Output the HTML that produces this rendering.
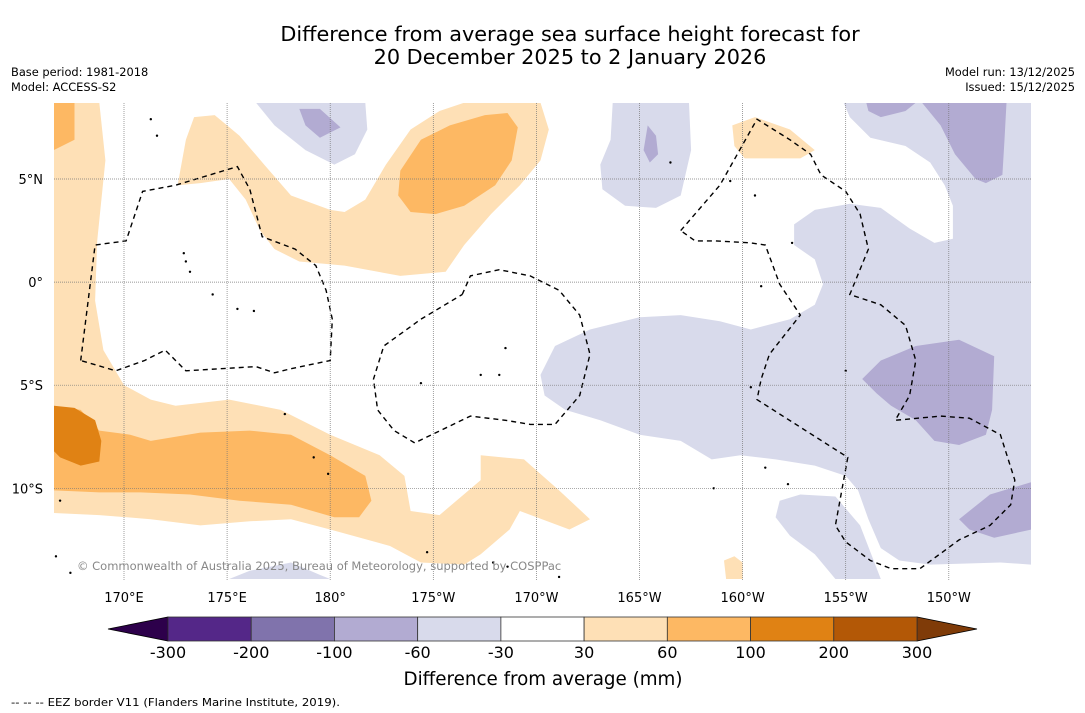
<!DOCTYPE html>
<html><head><meta charset="utf-8"><style>
html,body{margin:0;padding:0;background:#fff;}
svg{display:block;font-family:"DejaVu Sans","Liberation Sans",sans-serif;}
</style></head><body>
<svg id="chart" width="1085" height="713" viewBox="0 0 1085 713">
<text x="570" y="41" text-anchor="middle" font-size="20.8">Difference from average sea surface height forecast for</text>
<text x="570" y="64" text-anchor="middle" font-size="20.8">20 December 2025 to 2 January 2026</text>
<text x="11" y="76" font-size="11.4">Base period: 1981-2018</text>
<text x="11" y="91" font-size="11.4">Model: ACCESS-S2</text>
<text x="1075" y="76" font-size="11.4" text-anchor="end">Model run: 13/12/2025</text>
<text x="1075" y="91" font-size="11.4" text-anchor="end">Issued: 15/12/2025</text>
<defs><clipPath id="mapclip"><rect x="54" y="103" width="977" height="477"/></clipPath></defs>
<g id="map" clip-path="url(#mapclip)"></g>
<g id="axes"></g>
<text x="77" y="570" font-size="11.5" fill="#888">© Commonwealth of Australia 2025, Bureau of Meteorology, supported by COSPPac</text>
<g id="cbar"></g>
<text x="543" y="685" font-size="18.3" text-anchor="middle">Difference from average (mm)</text>
<text x="11" y="706" font-size="11" textLength="329" lengthAdjust="spacingAndGlyphs">--  --  -- EEZ border V11 (Flanders Marine Institute, 2019).</text>
</svg>
<script>
// ---- data ----
const lonTicks = [170,175,180,185,190,195,200,205,210];
const lonTickLabels = ["170°E","175°E","180°","175°W","170°W","165°W","160°W","155°W","150°W"];
const latTicks = [5,0,-5,-10];
const latTickLabels = ["5°N","0°","5°S","10°S"];
const cbarLevels = [-300,-200,-100,-60,-30,30,60,100,200,300];
const cbarColors = ["#542788","#8073ac","#b2abd2","#d8daeb","#ffffff","#fee0b6","#fdb863","#e08214","#b35806"];
const cbarUnder = "#2d004b";
const cbarOver = "#7f3b08";
// contour regions: level class + [lon(°E), lat] vertices
const regionLevels = ["p60","p60","p60","p60","n60","n60","n60","n60","n60","p100","p100","p100","p200","n100","n100","n100","n100","n100","n100"];
const regionShapes = [
 [[166.6,8.7],[168.8,8.7],[169.1,5.9],[168.7,2.0],[168.6,-0.9],[169.0,-3.3],[170.0,-5.0],[171.3,-5.7],[172.5,-6.0],[175.1,-5.7],[177.6,-6.2],[180.0,-7.4],[182.4,-8.4],[183.6,-9.4],[183.9,-11.1],[185.3,-11.3],[187.3,-9.6],[187.3,-8.4],[189.4,-8.6],[191.1,-10.1],[192.6,-11.5],[191.6,-12.0],[189.2,-11.1],[188.7,-12.0],[187.3,-13.2],[186.5,-13.7],[184.4,-13.6],[182.9,-12.8],[180.0,-12.0],[178.1,-11.5],[176.1,-11.6],[173.7,-11.8],[171.3,-11.5],[168.8,-11.3],[166.6,-11.2]],
 [[172.6,4.7],[173.0,6.9],[173.4,8.0],[174.4,8.1],[175.6,7.1],[176.8,5.7],[178.1,4.2],[180.0,3.5],[180.7,3.4],[181.7,4.0],[182.7,5.7],[183.9,7.4],[185.3,8.3],[186.5,8.7],[190.2,8.7],[190.6,7.4],[190.2,5.9],[189.2,4.7],[187.8,3.3],[186.5,1.8],[185.6,0.5],[183.4,0.3],[180.7,0.8],[178.5,1.0],[177.3,1.6],[176.6,2.5],[175.9,4.0],[175.1,5.0],[173.7,4.8]],
 [[199.5,7.6],[200.6,8.0],[202.3,7.4],[203.5,6.4],[202.8,6.0],[200.1,6.0],[199.6,6.6]],
 [[199.1,-13.5],[199.6,-13.3],[200.0,-13.6],[200.0,-14.4],[199.2,-14.4]],
 [[176.4,8.7],[181.7,8.7],[181.8,7.4],[181.2,6.2],[180.2,5.7],[178.8,6.4],[177.3,7.6]],
 [[193.7,8.7],[197.4,8.7],[197.5,6.4],[197.0,4.2],[195.8,3.6],[194.3,3.7],[193.2,4.5],[193.1,5.7],[193.6,6.9]],
 [[204.9,8.7],[214.0,8.7],[214.0,-13.7],[212.5,-13.6],[209.1,-13.7],[207.6,-13.5],[206.7,-12.9],[206.1,-11.5],[205.6,-10.1],[205.0,-9.4],[203.5,-8.9],[201.6,-8.6],[199.9,-8.4],[198.5,-8.6],[197.0,-7.7],[195.0,-7.4],[193.1,-6.7],[191.4,-6.2],[190.4,-5.5],[190.2,-4.5],[190.9,-3.1],[192.6,-2.3],[195.0,-1.7],[197.0,-1.6],[198.9,-1.9],[200.4,-2.3],[202.3,-1.8],[203.5,-1.1],[203.9,-0.1],[203.5,1.1],[202.5,1.8],[202.5,2.8],[203.5,3.5],[205.2,3.8],[206.7,3.6],[208.1,2.6],[209.3,1.9],[210.2,2.1],[210.2,3.7],[209.8,4.7],[209.1,5.8],[207.9,6.6],[206.2,7.0],[205.2,8.0]],
 [[201.8,-10.6],[202.8,-10.3],[204.5,-10.4],[205.7,-11.8],[206.7,-14.4],[204.5,-14.4],[203.5,-13.2],[202.3,-12.3],[201.6,-11.4]],
 [[175.1,-14.4],[176.1,-14.0],[178.1,-13.6],[179.5,-14.2],[180.0,-14.4]],
 [[183.4,5.4],[184.4,6.9],[185.8,7.6],[187.5,8.1],[188.6,8.2],[189.1,7.5],[188.8,5.9],[188.0,4.7],[186.5,3.7],[185.1,3.3],[183.9,3.4],[183.3,4.2]],
 [[166.6,8.7],[167.6,8.7],[167.6,6.9],[166.6,6.4]],
 [[166.6,-6.0],[167.9,-6.2],[168.8,-7.2],[170.3,-7.4],[171.3,-7.7],[173.7,-7.3],[176.1,-7.2],[178.1,-7.4],[180.0,-8.4],[181.7,-9.4],[182.0,-10.6],[181.4,-11.4],[180.2,-11.4],[178.1,-10.8],[175.6,-10.6],[173.2,-10.3],[170.8,-10.2],[168.8,-10.2],[166.6,-10.1]],
 [[166.6,-6.0],[167.6,-6.1],[168.6,-6.7],[168.9,-7.7],[168.8,-8.7],[167.9,-8.9],[166.9,-8.5],[166.6,-8.2]],
 [[178.5,8.4],[179.5,8.4],[180.5,7.5],[179.5,7.0],[178.8,7.6]],
 [[195.4,7.6],[195.8,7.1],[195.9,6.2],[195.5,5.8],[195.2,6.4]],
 [[206.0,8.7],[208.4,8.7],[207.9,8.3],[206.7,8.0],[206.1,8.3]],
 [[208.7,8.7],[212.8,8.7],[212.7,6.9],[212.6,5.2],[211.8,4.8],[211.3,5.0],[210.3,6.2],[209.6,7.6]],
 [[205.8,-4.7],[206.7,-3.8],[208.4,-3.1],[210.5,-2.8],[212.2,-3.6],[212.1,-6.2],[211.8,-7.4],[210.5,-7.9],[209.3,-7.7],[208.4,-6.7],[207.2,-6.0],[206.5,-5.4]],
 [[210.5,-11.5],[212.0,-10.3],[214.0,-9.7],[214.0,-12.0],[212.2,-12.4],[211.0,-12.0]]
];
const regionColors = {p60:"#fee0b6",p100:"#fdb863",p200:"#e08214",n60:"#d8daeb",n100:"#b2abd2"};
const eezLines = [
 [[167.9,-3.8],[168.6,1.8],[170.1,2.0],[170.9,4.4],[172.5,4.7],[175.5,5.6],[176.1,4.5],[176.7,2.2],[178.3,1.6],[179.3,0.8],[179.8,-0.4],[180.1,-1.8],[180.0,-3.8],[178.1,-4.2],[177.3,-4.4],[176.4,-4.1],[173.0,-4.3],[172.0,-3.3],[171.0,-3.8],[169.6,-4.3],[167.9,-3.8]],
 [[186.4,-0.6],[186.8,0.3],[188.2,0.6],[189.7,0.3],[191.1,-0.4],[192.1,-1.6],[192.6,-3.5],[192.1,-5.5],[190.9,-6.9],[189.7,-6.9],[188.5,-6.7],[186.8,-6.5],[184.1,-7.8],[183.1,-7.2],[182.3,-6.2],[182.1,-4.7],[182.6,-3.1],[184.4,-1.8],[186.4,-0.6]],
 [[197.0,2.5],[198.9,4.7],[200.7,7.9],[202.3,6.9],[203.3,6.2],[203.8,5.2],[205.0,4.4],[205.7,3.3],[206.1,1.6],[205.2,-0.6],[206.7,-1.1],[207.9,-2.1],[208.4,-3.8],[208.1,-5.5],[207.4,-6.7],[209.6,-6.5],[211.0,-6.6],[212.5,-7.4],[213.2,-9.6],[213.0,-10.8],[212.0,-11.8],[210.5,-12.5],[208.6,-13.9],[207.2,-13.9],[206.2,-13.5],[205.0,-12.6],[204.5,-11.8],[205.1,-8.5],[200.7,-5.7],[200.9,-4.7],[201.3,-3.5],[202.8,-1.6],[201.8,-0.1],[201.1,1.8],[200.4,1.9],[198.7,2.0],[197.7,2.0],[197.0,2.5]]
];
const islands = [[171.3,7.9],[171.6,7.1],[172.9,1.4],[173.0,1.0],[173.2,0.5],[174.3,-0.6],[175.5,-1.3],[176.3,-1.4],[177.8,-6.4],[179.2,-8.5],[179.9,-9.3],[187.9,-13.6],[188.6,-13.8],[184.7,-13.1],[166.9,-10.6],[166.7,-13.3],[167.4,-14.1],[191.1,-14.3],[201.1,-9.0],[198.6,-10.0],[202.2,-9.8],[205.0,-4.3],[200.4,-5.1],[196.5,5.8],[200.6,4.2],[199.4,4.9],[202.4,1.9],[200.9,-0.2],[188.5,-3.2],[187.3,-4.5],[188.2,-4.5],[184.4,-4.9]];

// ---- scales ----
const NS = "http://www.w3.org/2000/svg";
function X(lon){ return 124 + (lon - 170) * 20.62; }
function Y(lat){ return 179 - (lat - 5) * 20.62; }
function el(tag, attrs, parent){ const e = document.createElementNS(NS, tag); for (const k in attrs) e.setAttribute(k, attrs[k]); parent.appendChild(e); return e; }
function pts(arr){ return arr.map(p => X(p[0]).toFixed(1) + "," + Y(p[1]).toFixed(1)).join(" "); }

const map = document.getElementById("map");
regionShapes.forEach((shape, i) => {
  const p = el("polygon", {points: pts(shape), fill: regionColors[regionLevels[i]]}, map);
  
  
});
islands.forEach(c => {
  const d = el("circle", {cx: X(c[0]), cy: Y(c[1]), r: 1.2, fill: "#000"}, map);
  
  
});
eezLines.forEach(line => {
  const l = el("polyline", {points: pts(line), fill: "none", stroke: "#000", "stroke-width": 1.4, "stroke-dasharray": "5,4"}, map);
  
  
});
const axes = document.getElementById("axes");
lonTicks.forEach((lon, i) => {
  const g = el("line", {x1: X(lon), x2: X(lon), y1: 103, y2: 580, stroke: "#777", "stroke-width": 0.7, "stroke-dasharray": "1,1"}, axes);
  
  
  const t = el("text", {x: X(lon), y: 602, "text-anchor": "middle", "font-size": 13}, axes);
  t.textContent = lonTickLabels[i];
  
  
});
latTicks.forEach((lat, i) => {
  const g = el("line", {x1: 54, x2: 1031, y1: Y(lat), y2: Y(lat), stroke: "#777", "stroke-width": 0.7, "stroke-dasharray": "1,1"}, axes);
  
  
  const t = el("text", {x: 43, y: Y(lat) + 5, "text-anchor": "end", "font-size": 13}, axes);
  t.textContent = latTickLabels[i];
  
  
});

// ---- colorbar ----
const cb = document.getElementById("cbar");
const cbX0 = 168, cbX1 = 917, cbY = 617, cbH = 24;
const n = cbarLevels.length - 1;
const bw = (cbX1 - cbX0) / n;
function CX(i){ return cbX0 + i * bw; }
const under = el("polygon", {points: `108,${cbY + cbH/2} ${cbX0},${cbY} ${cbX0},${cbY + cbH}`, fill: cbarUnder, stroke: "#000", "stroke-width": 0.8}, cb);


const over = el("polygon", {points: `977,${cbY + cbH/2} ${cbX1},${cbY} ${cbX1},${cbY + cbH}`, fill: cbarOver, stroke: "#000", "stroke-width": 0.8}, cb);


cbarColors.forEach((c, i) => {
  const r = el("rect", {x: CX(i), y: cbY, width: bw, height: cbH, fill: c, stroke: "#333", "stroke-width": 0.8}, cb);
  
  
});
cbarLevels.forEach((v, i) => {
  const t = el("text", {x: CX(i), y: 658, "text-anchor": "middle", "font-size": 16}, cb);
  t.textContent = v;
  
  
});
</script>
</body></html>
